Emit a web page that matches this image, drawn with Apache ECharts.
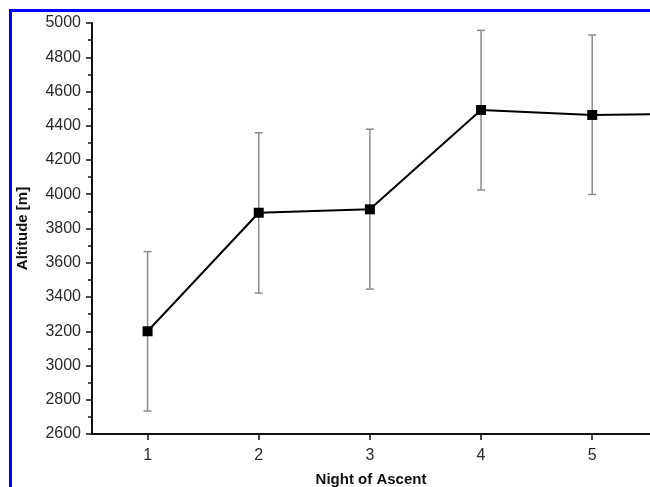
<!DOCTYPE html>
<html>
<head>
<meta charset="utf-8">
<script src="https://cdn.jsdelivr.net/npm/echarts@6/dist/echarts.min.js"></script>
<style>html,body{margin:0;padding:0;background:#fff}#c{width:650px;height:487px}</style>
</head>
<body>
<div id="c"></div>
<script>
// Data
var nights = [1, 2, 3, 4, 5, 6];
var altitude = [3200, 3892, 3912, 4492, 4463, 4472];
var errLow = [2734, 3423, 3446, 4025, 3999];
var errHigh = [3665, 4359, 4380, 4957, 4930];
var xTicks = [1, 2, 3, 4, 5];
var yMin = 2600, yMax = 5000, yStep = 200;

var chart = echarts.init(document.getElementById('c'), null, {renderer: 'canvas'});
var lineData = nights.map(function (n, i) { return [n, altitude[i]]; });
var errData = errLow.map(function (lo, i) { return [nights[i], lo, errHigh[i]]; });
var font = 'Liberation Sans, Arial, sans-serif';

chart.setOption({
  animation: false,
  backgroundColor: '#fff',
  grid: {left: 92, right: 0, top: 23, bottom: 53, containLabel: false, outerBoundsMode: 'none'},
  xAxis: {
    type: 'value', min: 0.5, max: 5.52,
    name: 'Night of Ascent', nameLocation: 'middle', nameGap: 38,
    nameTextStyle: {fontFamily: font, fontWeight: 'bold', fontSize: 15, color: '#111'},
    axisLine: {show: true, onZero: false, lineStyle: {color: '#111', width: 2}},
    axisTick: {show: true, customValues: xTicks, length: 6, lineStyle: {color: '#111', width: 1.5}},
    axisLabel: {customValues: xTicks, margin: 14, fontFamily: font, fontSize: 16, color: '#2a2a2a',
      formatter: function (v) { return String(v); }},
    splitLine: {show: false}
  },
  yAxis: {
    type: 'value', min: yMin, max: yMax, interval: yStep,
    name: 'Altitude [m]', nameLocation: 'middle', nameGap: 62,
    nameTextStyle: {fontFamily: font, fontWeight: 'bold', fontSize: 15, color: '#111'},
    axisLine: {show: true, onZero: false, lineStyle: {color: '#111', width: 2}},
    axisTick: {show: true, length: 6, lineStyle: {color: '#111', width: 1.5}},
    minorTick: {show: true, splitNumber: 2, length: 4, lineStyle: {color: '#111', width: 1.5}},
    axisLabel: {margin: 11, fontFamily: font, fontSize: 16, color: '#2a2a2a',
      formatter: function (v) { return String(v); }},
    splitLine: {show: false}
  },
  graphic: [{
    type: 'rect', z: 100, silent: true,
    shape: {x: 10.5, y: 10.5, width: 800, height: 700},
    style: {fill: 'none', stroke: '#0000ff', lineWidth: 3}
  }],
  series: [{
    type: 'custom',
    clip: true,
    data: errData,
    encode: {x: 0, y: [1, 2]},
    renderItem: function (params, api) {
      var x = api.value(0);
      var lo = api.coord([x, api.value(1)]);
      var hi = api.coord([x, api.value(2)]);
      var hw = 4;
      var st = {stroke: '#8c8c8c', lineWidth: 1.5};
      return {type: 'group', children: [
        {type: 'line', shape: {x1: lo[0], y1: lo[1], x2: hi[0], y2: hi[1]}, style: st},
        {type: 'line', shape: {x1: lo[0] - hw, y1: lo[1], x2: lo[0] + hw, y2: lo[1]}, style: st},
        {type: 'line', shape: {x1: hi[0] - hw, y1: hi[1], x2: hi[0] + hw, y2: hi[1]}, style: st}
      ]};
    },
    z: 1
  }, {
    type: 'line',
    data: lineData,
    clip: true,
    symbol: 'rect', symbolSize: 10,
    lineStyle: {color: '#000', width: 2},
    itemStyle: {color: '#000'},
    z: 2
  }]
});
</script>
</body>
</html>
